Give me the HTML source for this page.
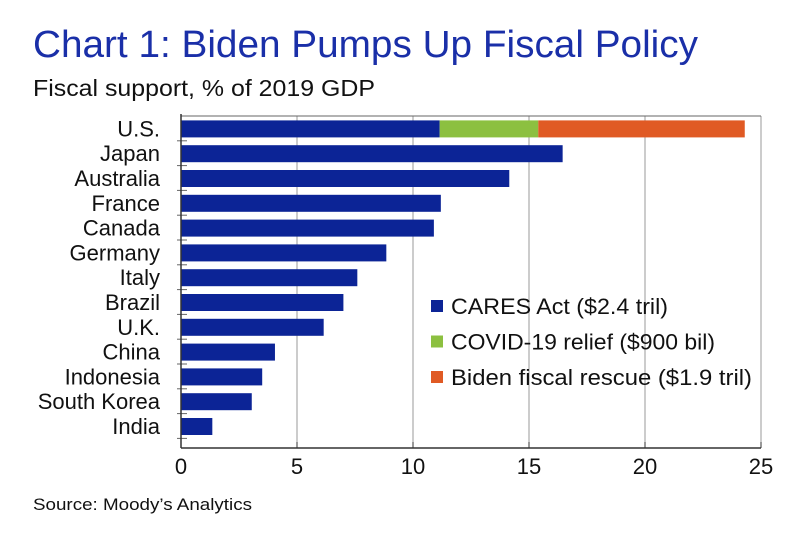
<!DOCTYPE html>
<html><head><meta charset="utf-8"><style>
body{margin:0;background:#fff;width:810px;height:536px;overflow:hidden;font-family:"Liberation Sans",Arial,sans-serif}
</style></head><body>
<svg width="810" height="536" font-family="Liberation Sans, Arial, sans-serif">
<text x="33" y="57" font-size="38" fill="#1a2fa8" textLength="665" lengthAdjust="spacingAndGlyphs">Chart 1: Biden Pumps Up Fiscal Policy</text>
<text x="33" y="96" font-size="23" fill="#111" textLength="342" lengthAdjust="spacingAndGlyphs">Fiscal support, % of 2019 GDP</text>
<text x="33" y="510" font-size="17" fill="#111" textLength="219" lengthAdjust="spacingAndGlyphs">Source: Moody’s Analytics</text>
<g id="plot"></g>
</svg>
<script>
const categories=["U.S.","Japan","Australia","France","Canada","Germany","Italy","Brazil","U.K.","China","Indonesia","South Korea","India"];
const cares=[11.15,16.45,14.15,11.2,10.9,8.85,7.6,7.0,6.15,4.05,3.5,3.05,1.35];
const covid=[4.25,0,0,0,0,0,0,0,0,0,0,0,0];
const biden=[8.9,0,0,0,0,0,0,0,0,0,0,0,0];
const xTicks=[0,5,10,15,20,25];
const seriesNames=["CARES Act ($2.4 tril)","COVID-19 relief ($900 bil)","Biden fiscal rescue ($1.9 tril)"];
const legendWidths=[217,264,301];
const colors=["#0c2496","#8cc040","#e05a24"];
const NS="http://www.w3.org/2000/svg";
const g=document.getElementById('plot');
const L=181,R=761,T=116,B=448;
const x=v=>L+(R-L)*v/25;
const band=24.8;
const y=i=>T+band*i;
function el(t,a){const e=document.createElementNS(NS,t);for(const k in a)e.setAttribute(k,a[k]);g.appendChild(e);return e;}
xTicks.forEach(t=>{
 if(t>0){const l=el('line',{x1:x(t),x2:x(t),y1:T,y2:B,stroke:'#999','stroke-width':1});
 
 }
 const tk=el('line',{x1:x(t),x2:x(t),y1:B-6,y2:B,stroke:'#333','stroke-width':1});
 
 
 const tx=el('text',{x:x(t),y:B+26,'text-anchor':'middle','font-size':22,fill:'#111'});
 tx.textContent=t;
 
 
});
const fr=el('line',{x1:L,x2:R,y1:T,y2:T,stroke:'#666','stroke-width':1});


categories.forEach((c,i)=>{
 const bh=17,by=y(i)+(band-bh)/2+0.5;
 const vals=[cares[i],covid[i],biden[i]];let acc=0;
 vals.forEach((v,s)=>{if(v>0){const r=el('rect',{x:x(acc),y:by,width:x(acc+v)-x(acc),height:bh,fill:colors[s]});
  
  }acc+=v;});
 const lb=el('text',{x:L-21,y:y(i)+band/2+8,'text-anchor':'end','font-size':22,fill:'#111'});
 lb.textContent=c;
 
 
 const tk=el('line',{x1:L-4,x2:L+6,y1:y(i+1),y2:y(i+1),stroke:'#666','stroke-width':1});
 
 
});
const ax=el('line',{x1:L,x2:L,y1:T-2,y2:B,stroke:'#333','stroke-width':1.5});


const bx=el('line',{x1:L,x2:R,y1:B,y2:B,stroke:'#333','stroke-width':1.5});


seriesNames.forEach((n,s)=>{
 const yy=306+s*35.5;
 const r=el('rect',{x:431,y:yy-6,width:12,height:12,fill:colors[s]});
 
 
 const t=el('text',{x:451,y:yy+8,'font-size':22,fill:'#111',textLength:legendWidths[s],lengthAdjust:'spacingAndGlyphs'});
 t.textContent=n;
 
 
});
</script>
</body></html>
